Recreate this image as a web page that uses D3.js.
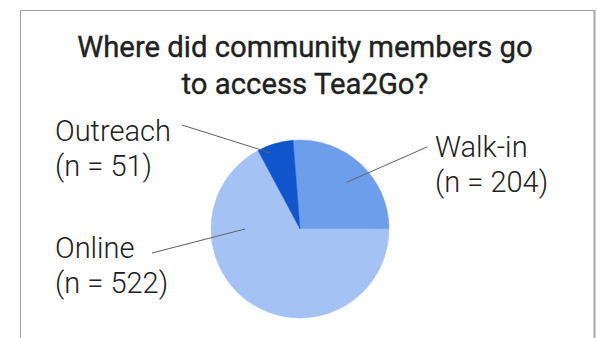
<!DOCTYPE html>
<html>
<head>
<meta charset="utf-8">
<script src="https://cdn.jsdelivr.net/npm/d3@7"></script>
<style>
  html, body { margin: 0; padding: 0; background: #fff; }
  svg { display: block; }
</style>
</head>
<body>
<svg id="chart" width="598" height="338"></svg>
<script>
// ---- data ----
const titleLines = ["Where did community members go", "to access Tea2Go?"];
const categories = ["Walk-in", "Online", "Outreach"];
const counts = [204, 522, 51];
const colors = ["#6d9eeb", "#a4c2f4", "#1155cc"];

// ---- layout (positions only) ----
const W = 598, H = 338;
const cx = 300, cy = 229, R = 89;
const startDeg = -4.5;
const labelLayout = {
  "Walk-in":  { anchorAng: 45,  anchorR: 66, lineEnd: [427, 147], tx: 435, ty: 157 },
  "Online":   { anchorAng: 270, anchorR: 55, lineEnd: [152, 253], tx: 55,  ty: 258 },
  "Outreach": { anchorAng: -21.5, anchorR: 82, lineEnd: [182, 125], tx: 55, ty: 141 }
};

const svg = d3.select("#chart");

// frame
svg.append("path")
  .attr("d", `M20.5,${H} L20.5,10.5 L594,10.5`)
  .attr("fill", "none").attr("stroke", "#9e9e9e").attr("stroke-width", 1);
svg.append("line").attr("x1", 594.5).attr("x2", 594.5).attr("y1", 10).attr("y2", H)
  .attr("stroke", "#a8a8a8").attr("stroke-width", 2);

// title
const title = svg.append("text")
  .attr("text-anchor", "middle")
  .attr("font-family", "Roboto, 'Noto Sans', sans-serif")
  .attr("font-weight", 400)
  .attr("font-size", 29.3)
  .attr("fill", "#212121")
  .attr("stroke", "#212121")
  .attr("stroke-width", 0.35);
titleLines.forEach((t, i) => {
  title.append("tspan").attr("x", 305).attr("y", 57 + i * 37).text(t);
});

// pie
const data = categories.map((c, i) => ({ cat: c, n: counts[i], color: colors[i] }));
const pie = d3.pie().sort(null).value(d => d.n)
  .startAngle(startDeg * Math.PI / 180)
  .endAngle((startDeg + 360) * Math.PI / 180);
const arc = d3.arc().innerRadius(0).outerRadius(R);

const g = svg.append("g").attr("transform", `translate(${cx},${cy})`);
g.selectAll("path.slice").data(pie(data)).join("path")
  .attr("class", "slice")
  .attr("d", arc)
  .attr("fill", d => d.data.color)
  .attr("stroke", d => d.data.color)
  .attr("stroke-width", 0.5);

// labels + leader lines
data.forEach(d => {
  const L = labelLayout[d.cat];
  const a = L.anchorAng * Math.PI / 180;
  const ax = cx + L.anchorR * Math.sin(a), ay = cy - L.anchorR * Math.cos(a);
  svg.append("line")
    .attr("x1", L.lineEnd[0]).attr("y1", L.lineEnd[1])
    .attr("x2", ax).attr("y2", ay)
    .attr("stroke", "#616161").attr("stroke-width", 1);
  const t = svg.append("text")
    .attr("font-family", "Roboto, 'Noto Sans', sans-serif")
    .attr("font-weight", 300)
    .attr("font-size", 29)
    .attr("fill", "#212121");
  t.append("tspan").attr("x", L.tx).attr("y", L.ty).text(d.cat);
  t.append("tspan").attr("x", L.tx).attr("y", L.ty + 35).text(`(n = ${d.n})`);
});
</script>
</body>
</html>
